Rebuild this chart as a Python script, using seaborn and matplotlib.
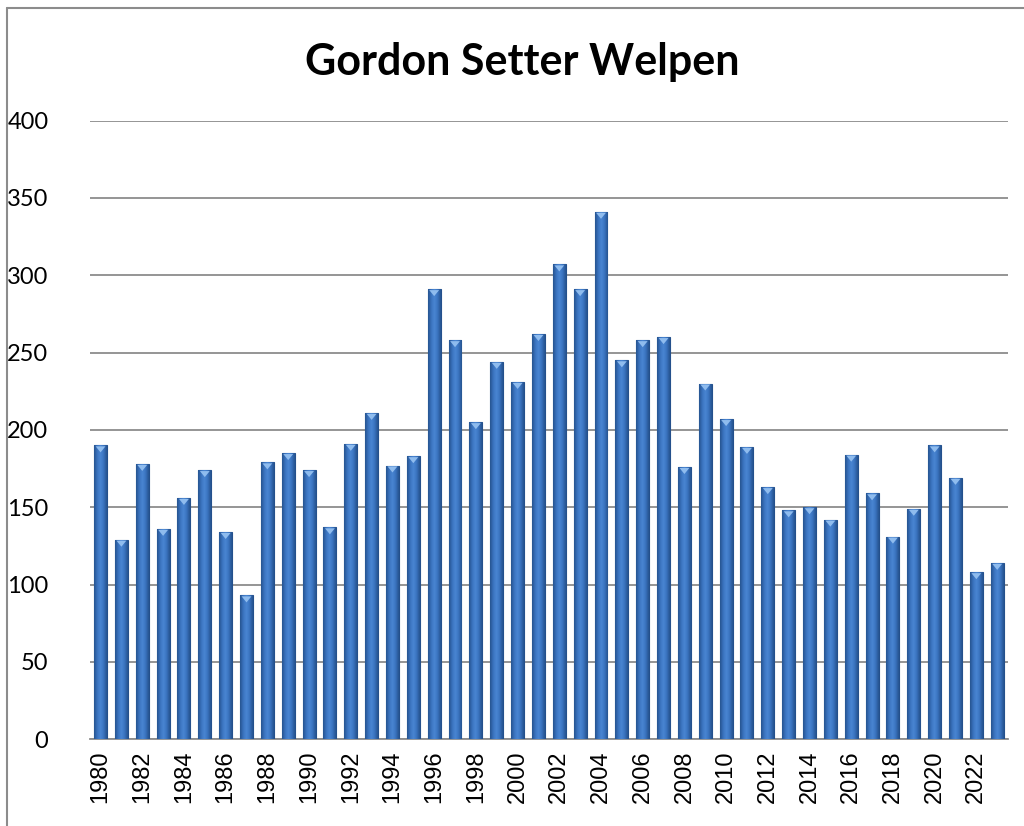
import matplotlib
matplotlib.use("Agg")
import matplotlib.pyplot as plt
import seaborn as sns
import numpy as np
import pandas as pd
from matplotlib.colors import LinearSegmentedColormap
from matplotlib.patches import Polygon

years = list(range(1980, 2024))
puppies = [190, 129, 178, 136, 156, 174, 134, 93, 179, 185,
           174, 137, 191, 211, 177, 183, 291, 258, 205, 244,
           231, 262, 307, 291, 341, 245, 258, 260, 176, 230,
           207, 189, 163, 148, 150, 142, 184, 159, 131, 149,
           190, 169, 108, 114]
y_ticks = [0, 50, 100, 150, 200, 250, 300, 350, 400]

df = pd.DataFrame({"year": [str(y) for y in years], "count": puppies})

sns.set_theme(style="white")
plt.rcParams['font.family'] = ['Lato', 'DejaVu Sans']

fig = plt.figure(figsize=(10.24, 8.26), dpi=100)
ax = fig.add_axes([0.088, 0.105, 0.896, 0.749])

sns.barplot(data=df, x="year", y="count", color="#3467ad", width=0.62,
            edgecolor="#24508c", linewidth=0.8, ax=ax, zorder=3)

# horizontal gradient on each bar, like the office bevel look
grad = LinearSegmentedColormap.from_list("bar", ["#25538f", "#3a73bf", "#4a86d3", "#3a73bf", "#25538f"])
g = np.linspace(0, 1, 64).reshape(1, -1)
for p in ax.patches[:]:
    x0, w, h = p.get_x(), p.get_width(), p.get_height()
    im = ax.imshow(g, cmap=grad, aspect="auto", extent=[x0, x0 + w, 0, h],
                   zorder=3.5, interpolation="bicubic")
    im.set_clip_path(p)
    # small light triangle at the top of each bar
    tri = Polygon([(x0 + w * 0.12, h - 0.6), (x0 + w * 0.88, h - 0.6), (x0 + w / 2, h - 4.5)],
                  closed=True, facecolor="#8fbcee", edgecolor="none", zorder=4)
    ax.add_patch(tri)

ax.set_xlim(-0.5, len(years) - 0.5)
ax.set_ylim(0, 400)
ax.set_yticks(y_ticks)
ax.set_yticklabels([str(v) for v in y_ticks], fontsize=17, color="black")
ax.yaxis.grid(True, color="#8c8c8c", linewidth=1.3, zorder=0)
ax.set_axisbelow(True)

labels = [str(y) if y % 2 == 0 else "" for y in years]
ax.set_xticks(range(len(years)))
ax.set_xticklabels(labels, rotation=90, fontsize=17, color="black",
                   family=["Liberation Sans", "DejaVu Sans"])
ax.tick_params(axis="both", length=0, pad=8)
ax.tick_params(axis="y", pad=30)
ax.set_xlabel("")
ax.set_ylabel("")

for s in ["top", "right", "left"]:
    ax.spines[s].set_visible(False)
ax.spines["bottom"].set_color("#8c8c8c")
ax.spines["bottom"].set_linewidth(1.3)

fig.text(0.51, 0.925, "Gordon Setter Welpen", ha="center", va="center",
         fontsize=31, fontweight="bold", color="black")

# chart frame (left and top edges only visible)
fig.add_artist(plt.Line2D([0.007, 0.007], [0, 0.99], color="#8c8c8c", linewidth=1.5))
fig.add_artist(plt.Line2D([0.007, 1.0], [0.99, 0.99], color="#8c8c8c", linewidth=1.5))

fig.savefig("out.png", dpi=100, facecolor="white")
